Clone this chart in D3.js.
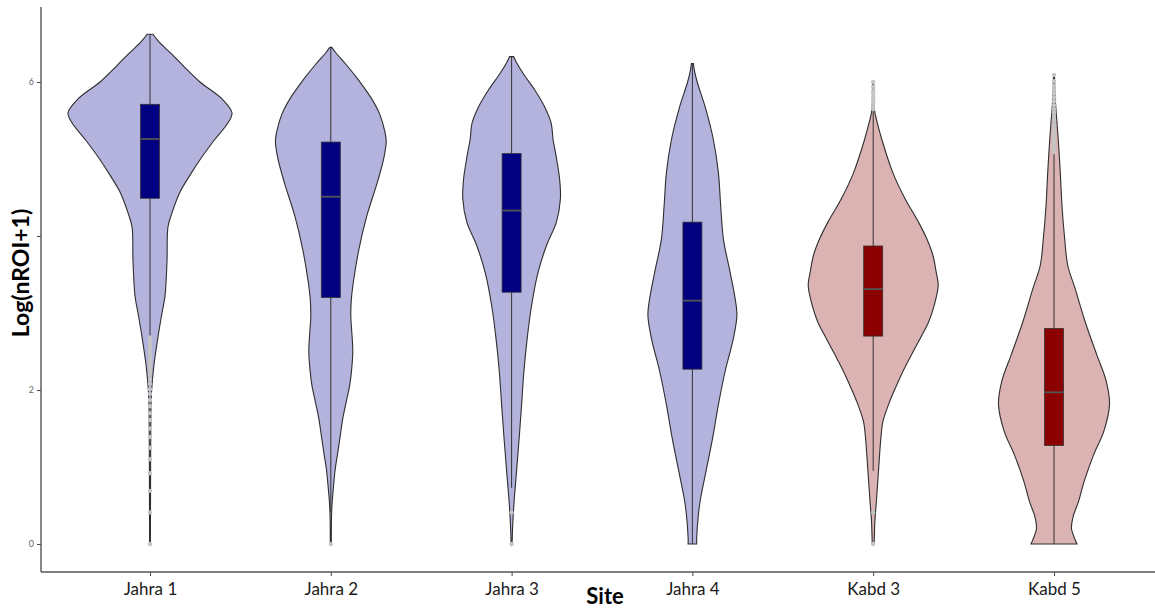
<!DOCTYPE html>
<html>
<head>
<meta charset="utf-8">
<script src="https://cdn.jsdelivr.net/npm/d3@7"></script>
<style>
  html, body { margin: 0; padding: 0; background: #ffffff; }
  svg { display: block; }
</style>
</head>
<body>
<svg id="chart" width="1155" height="610"></svg>
<script>
// ---------------- DATA ----------------
const sites = ["Jahra 1", "Jahra 2", "Jahra 3", "Jahra 4", "Kabd 3", "Kabd 5"];
const siteGroup = ["Jahra", "Jahra", "Jahra", "Jahra", "Kabd", "Kabd"];

// violin density profiles: [Log(nROI+1) value, relative density]
const violinJahra1 = [[0,0.04],[0.5,0.05],[1.0,0.06],[1.5,0.08],[1.9,0.12],[2.06,0.2],[2.33,0.4],[2.69,0.8],[3.0,1.2],[3.22,1.5],[3.67,1.7],[4.12,1.8],[4.3,2.2],[4.57,3.0],[4.79,4.0],[5.01,5.1],[5.24,6.4],[5.47,7.8],[5.6,8.2],[5.78,7.2],[6.0,5.0],[6.2,3.4],[6.36,2.2],[6.52,0.9],[6.62,0.3]];
const violinJahra2 = [[0,0.05],[0.4,0.08],[0.53,0.13],[0.75,0.27],[0.97,0.44],[1.19,0.7],[1.41,0.95],[1.63,1.2],[1.85,1.55],[2.07,1.9],[2.29,2.1],[2.51,2.2],[2.75,2.1],[2.95,2.0],[3.17,2.05],[3.38,2.23],[3.82,2.8],[4.26,3.6],[4.70,4.66],[5.01,5.3],[5.23,5.54],[5.36,5.4],[5.58,4.9],[5.80,4.0],[6.02,2.8],[6.24,1.45],[6.38,0.5],[6.45,0.1]];
const violinJahra3 = [[0,0.05],[0.21,0.1],[0.52,0.23],[0.95,0.5],[1.38,0.76],[1.81,1.0],[2.24,1.23],[2.67,1.56],[3.10,2.0],[3.53,2.65],[3.88,3.5],[4.18,4.48],[4.48,4.88],[4.74,4.8],[5.04,4.45],[5.25,4.15],[5.47,3.95],[5.68,3.3],[5.90,2.3],[6.11,1.16],[6.25,0.5],[6.33,0.2]];
const violinJahra4 = [[0,0.43],[0.08,0.43],[0.38,0.6],[0.60,0.83],[0.95,1.37],[1.38,2.03],[1.81,2.6],[2.24,3.27],[2.67,4.1],[2.97,4.45],[3.19,4.27],[3.53,3.77],[3.96,3.1],[4.39,2.83],[4.82,2.6],[5.25,2.1],[5.68,1.27],[5.99,0.5],[6.15,0.2],[6.24,0.1]];
const violinKabd3 = [[0,0.1],[0.30,0.17],[0.52,0.3],[0.95,0.53],[1.38,0.77],[1.59,0.97],[1.81,1.53],[2.02,2.2],[2.24,2.97],[2.45,3.8],[2.67,4.7],[2.88,5.53],[3.10,6.1],[3.36,6.5],[3.53,6.3],[3.75,5.97],[3.96,5.37],[4.18,4.53],[4.48,3.2],[4.82,1.97],[5.25,0.87],[5.5,0.35],[5.62,0.15],[5.8,0.06],[6.0,0.05]];
const violinKabd5 = [[0,2.3],[0.06,2.1],[0.2,1.75],[0.35,1.9],[0.55,2.45],[0.82,3.03],[1.16,3.97],[1.46,4.97],[1.81,5.55],[2.11,5.23],[2.45,4.3],[2.88,3.13],[3.31,2.13],[3.62,1.37],[3.96,1.07],[4.39,0.8],[4.82,0.63],[5.25,0.43],[5.73,0.15],[6.0,0.06],[6.09,0.05]];
const violins = [violinJahra1, violinJahra2, violinJahra3, violinJahra4, violinKabd3, violinKabd5];

// box plot statistics
const whiskerLow  = [2.71, 0.41, 0.73, 0.00, 0.95, 0.00];
const boxQ1       = [4.49, 3.20, 3.27, 2.27, 2.70, 1.28];
const boxMedian   = [5.26, 4.51, 4.33, 3.16, 3.31, 1.97];
const boxQ3       = [5.71, 5.22, 5.07, 4.18, 3.87, 2.80];
const whiskerHigh = [6.62, 6.45, 6.33, 6.24, 5.62, 5.06];

// outliers
const outliersJahra1 = [0, 0.41, 0.69, 0.92, 1.10, 1.25, 1.39, 1.50, 1.61, 1.70, 1.79, 1.87, 1.95, 2.01, 2.08, 2.14, 2.20, 2.25, 2.30, 2.35, 2.40, 2.44, 2.48, 2.53, 2.56, 2.60, 2.64, 2.67];
const outliersJahra2 = [0];
const outliersJahra3 = [0, 0.41];
const outliersJahra4 = [];
const outliersKabd3 = [0, 0.41, 5.65, 5.69, 5.73, 5.77, 5.81, 5.85, 5.89, 5.94, 6.0];
const outliersKabd5 = [5.10, 5.15, 5.20, 5.25, 5.30, 5.35, 5.40, 5.45, 5.50, 5.55, 5.60, 5.65, 5.70, 5.75, 5.80, 5.85, 5.90, 5.95, 6.01, 6.09];
const outliers = [outliersJahra1, outliersJahra2, outliersJahra3, outliersJahra4, outliersKabd3, outliersKabd5];

const yTicks = [0, 2, 4, 6];
const yTickLabels = ["0", "2", "", "6"];
const xTitle = "Site";
const yTitle = "Log(nROI+1)";

// ---------------- STYLE / LAYOUT ----------------
const violinFill = { Jahra: "#b3b3de", Kabd: "#dcb3b3" };
const boxFill = { Jahra: "#000080", Kabd: "#8b0000" };
const plotLeft = 41, plotRight = 1155, plotTop = 7, plotBottom = 572;

const svg = d3.select("#chart");

const x = d3.scalePoint().domain(sites).range([150, 1054]);
const y = d3.scaleLinear().domain([-0.364, 6.974]).range([plotBottom, plotTop]);
const w = d3.scaleLinear().domain([0, 10]).range([0, 100]);
const boxHalf = 9.5;

// violins
sites.forEach((s, i) => {
  const cx = x(s);
  const area = d3.area()
    .y(d => y(d[0]))
    .x0(d => cx - w(d[1]))
    .x1(d => cx + w(d[1]))
    .curve(d3.curveCatmullRom.alpha(0.5));
  svg.append("path")
    .attr("d", area(violins[i]))
    .attr("fill", violinFill[siteGroup[i]])
    .attr("stroke", "#2e2e2e")
    .attr("stroke-width", 1.1);
});

// box plots
sites.forEach((s, i) => {
  const cx = x(s);
  const g = svg.append("g");
  g.append("line")
    .attr("x1", cx).attr("x2", cx)
    .attr("y1", y(whiskerHigh[i])).attr("y2", y(boxQ3[i]))
    .attr("stroke", "#333").attr("stroke-width", 1);
  g.append("line")
    .attr("x1", cx).attr("x2", cx)
    .attr("y1", y(boxQ1[i])).attr("y2", y(whiskerLow[i]))
    .attr("stroke", "#333").attr("stroke-width", 1);
  g.append("rect")
    .attr("x", cx - boxHalf)
    .attr("width", boxHalf * 2)
    .attr("y", y(boxQ3[i]))
    .attr("height", y(boxQ1[i]) - y(boxQ3[i]))
    .attr("fill", boxFill[siteGroup[i]])
    .attr("stroke", "#333")
    .attr("stroke-width", 0.8);
  g.append("line")
    .attr("x1", cx - boxHalf).attr("x2", cx + boxHalf)
    .attr("y1", y(boxMedian[i])).attr("y2", y(boxMedian[i]))
    .attr("stroke", "#555")
    .attr("stroke-width", 1.8);
  g.selectAll("circle")
    .data(outliers[i])
    .join("circle")
    .attr("cx", cx)
    .attr("cy", d => y(d))
    .attr("r", 2.2)
    .attr("fill", "#c4c4c4");
});

// axes
const yAxis = d3.axisLeft(y)
  .tickValues(yTicks)
  .tickFormat((d, i) => yTickLabels[i])
  .tickSize(4)
  .tickPadding(3);
const yg = svg.append("g").attr("transform", `translate(${plotLeft},0)`).call(yAxis);
yg.select(".domain").remove();
yg.selectAll(".tick line").attr("stroke", "#444").attr("stroke-width", 1);
yg.selectAll(".tick text").attr("fill", "#666").style("font-family", "Lato, sans-serif").style("font-size", "9px");
svg.append("line")
  .attr("x1", plotLeft).attr("x2", plotLeft)
  .attr("y1", plotTop).attr("y2", plotBottom)
  .attr("stroke", "#555").attr("stroke-width", 1.4);

const xAxis = d3.axisBottom(x).tickSize(4).tickPadding(7);
const xg = svg.append("g").attr("transform", `translate(0,${plotBottom})`).call(xAxis);
xg.select(".domain").remove();
xg.selectAll(".tick line").attr("stroke", "#444").attr("stroke-width", 1);
xg.selectAll(".tick text").attr("fill", "#1a1a1a").style("font-family", "Lato, sans-serif").style("font-size", "17px");
svg.append("line")
  .attr("x1", plotLeft).attr("x2", plotRight)
  .attr("y1", plotBottom).attr("y2", plotBottom)
  .attr("stroke", "#555").attr("stroke-width", 1.4);

// titles
svg.append("text")
  .attr("x", 605).attr("y", 604)
  .attr("text-anchor", "middle")
  .style("font-family", "Lato, sans-serif")
  .style("font-weight", "bold")
  .style("font-size", "22px")
  .attr("fill", "#000")
  .text(xTitle);
svg.append("text")
  .attr("transform", "translate(29,273) rotate(-90)")
  .attr("text-anchor", "middle")
  .style("font-family", "Lato, sans-serif")
  .style("font-weight", "bold")
  .style("font-size", "23px")
  .attr("fill", "#000")
  .text(yTitle);
</script>
</body>
</html>
